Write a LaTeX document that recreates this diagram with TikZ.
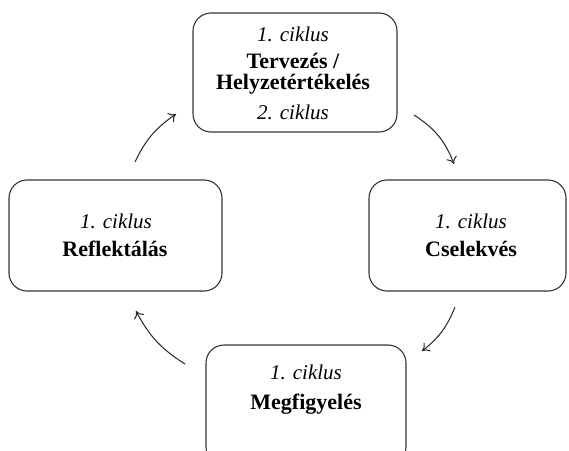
\documentclass[tikz,border=0pt]{standalone}
\usepackage{fontspec}
\setmainfont{Liberation Serif}
\usetikzlibrary{arrows.meta}
\begin{document}
\begin{tikzpicture}[x=1pt,y=-1pt,
  boxstyle/.style={draw=black!80,line width=1.1pt,rounded corners=18pt,inner sep=0pt},
  cyc/.style={font=\fontsize{21}{22}\selectfont\itshape,inner sep=0pt,anchor=base},
  ttl/.style={font=\fontsize{22}{23}\selectfont\bfseries,inner sep=0pt,anchor=base},
  arr/.style={draw=black!85,line width=1pt,-{To[length=7pt,width=11pt]}}]
\useasboundingbox (0,0) rectangle (569,450);
\node[boxstyle,minimum width=204pt,minimum height=119pt] (top) at (295,72.5) {};
\node[boxstyle,minimum width=213pt,minimum height=111pt] (left) at (115.5,235.5) {};
\node[boxstyle,minimum width=197pt,minimum height=111pt] (right) at (467.5,235.5) {};
\node[boxstyle,minimum width=200pt,minimum height=120pt] (bot) at (306,405) {};
\node[cyc] (t1) at (293,41) {1. ciklus};
\node[ttl] (t2) at (293,68) {Tervezés /};
\node[ttl] (t2b) at (293,89) {Helyzetértékelés};
\node[cyc] (t3) at (293,119) {2. ciklus};
\node[cyc] (l1) at (116,228) {1. ciklus};
\node[ttl] (l2) at (115,256) {Reflektálás};
\node[cyc] (r1) at (471,228) {1. ciklus};
\node[ttl] (r2) at (471,256) {Cselekvés};
\node[cyc] (b1) at (306,379) {1. ciklus};
\node[ttl] (b2) at (306,409) {Megfigyelés};
\coordinate (a1s) at (414,115);
\coordinate (a1e) at (454,164);
\coordinate (a2s) at (455,307);
\coordinate (a2e) at (422,351);
\coordinate (a3s) at (185,364);
\coordinate (a3e) at (136,311);
\coordinate (a4s) at (135,162);
\coordinate (a4e) at (176,114);
\draw[arr] (a1s) to[bend left=18] (a1e);
\draw[arr] (a2s) to[bend left=15] (a2e);
\draw[arr] (a3s) to[bend left=15] (a3e);
\draw[arr] (a4s) to[bend left=15] (a4e);
\end{tikzpicture}
\end{document}
